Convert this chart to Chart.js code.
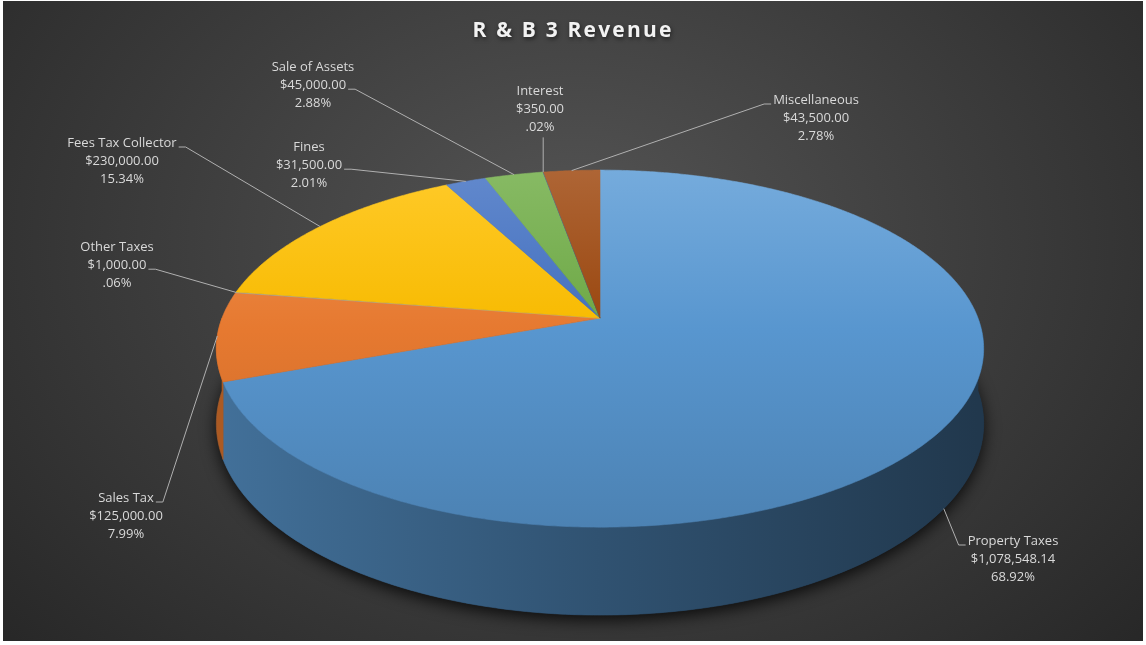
<!DOCTYPE html>
<html>
<head>
<meta charset="utf-8">
<title>R &amp; B 3 Revenue</title>
<script src="https://cdn.jsdelivr.net/npm/chart.js@4.4.0/dist/chart.umd.min.js"></script>
<style>
    html, body { margin: 0; padding: 0; background: #fff; }
    #wrap {
        position: absolute; left: 3px; top: 1px; width: 1140px; height: 640px;
        background: radial-gradient(ellipse 70% 95% at 50% 38%, #555 0%, #3d3d3d 50%, #262626 100%);
    }
</style>
</head>
<body>
<div id="wrap"><canvas id="revChart"></canvas></div>
<script>
var categories = ['Property Taxes', 'Sales Tax', 'Other Taxes', 'Fees Tax Collector', 'Fines', 'Sale of Assets', 'Interest', 'Miscellaneous'];
var amounts = [1078548.14, 125000, 1000, 230000, 31500, 45000, 350, 43500];
var percentText = ['68.92%', '7.99%', '.06%', '15.34%', '2.01%', '2.88%', '.02%', '2.78%'];
var sliceColors = ['#5B9BD5', '#ED7D31', '#A5A5A5', '#FFC000', '#4472C4', '#70AD47', '#255E91', '#9E480E'];

// where each data label sits (centre of first line) and how its leader leaves it
var labelLayout = [
    { x: 1010, y: 540, line: 0, side: 'left',  base: true },
    { x: 123,  y: 497, line: 0, side: 'right' },
    { x: 114,  y: 246, line: 1, side: 'right' },
    { x: 119,  y: 142, line: 0, side: 'right' },
    { x: 306,  y: 146, line: 1, side: 'right' },
    { x: 310,  y: 66,  line: 1, side: 'right' },
    { x: 537,  y: 90,  line: 2, side: 'below' },
    { x: 813,  y: 99,  line: 0, side: 'left' }
];
var lineGap = 18.2;

// tilted disc: sideways shift from the pie centre, radii, perspective, thickness
var view = { shiftX: 27, rx: 378, ry: 173.3, persp: 0.171, depth: 72.9 };

function project(c, a, drop) {
    var s = Math.sin(a), w = 1 - view.persp * s;
    return { x: c.x + view.rx * Math.cos(a) / w, y: c.y + (view.ry * s + (drop || 0)) / w };
}

function rgb(hex) {
    var n = parseInt(hex.slice(1), 16);
    return [(n >> 16) & 255, (n >> 8) & 255, n & 255];
}
function shade(hex, f) {
    var c = rgb(hex);
    return 'rgb(' + c.map(function(v) { return Math.round(v * f); }).join(',') + ')';
}
function tint(hex, f) {
    var c = rgb(hex);
    return 'rgb(' + c.map(function(v) { return Math.round(v + (255 - v) * f); }).join(',') + ')';
}
function money(v) {
    return '$' + v.toLocaleString('en-US', { minimumFractionDigits: 2, maximumFractionDigits: 2 });
}

function centreOf(chart) {
    var arc = chart.getDatasetMeta(0).data[0];
    return { x: arc.x + view.shiftX, y: arc.y };
}

var pie3d = {
    id: 'pie3d',
    beforeDraw: function(chart) {
        // spaced, shadowed title text
        var ctx = chart.ctx;
        ctx.letterSpacing = '2.2px';
        ctx.shadowColor = 'rgba(0,0,0,0.55)';
        ctx.shadowBlur = 4;
        ctx.shadowOffsetX = 1;
        ctx.shadowOffsetY = 2;
    },
    beforeDatasetsDraw: function(chart) {
        var ctx = chart.ctx;
        ctx.letterSpacing = '0px';
        ctx.shadowColor = 'rgba(0,0,0,0)';
        ctx.shadowBlur = 0;
        ctx.shadowOffsetX = 0;
        ctx.shadowOffsetY = 0;

        var arcs = chart.getDatasetMeta(0).data;
        var colors = chart.data.datasets[0].backgroundColor;
        var c = centreOf(chart);
        var deg = Math.PI / 180;

        // soft shadow under the base
        ctx.save();
        ctx.shadowColor = 'rgba(0,0,0,0.8)';
        ctx.shadowBlur = 16;
        ctx.shadowOffsetY = 5;
        ctx.beginPath();
        for (var t = 0; t <= 360; t++) {
            var p = project(c, t * deg, view.depth);
            if (t) ctx.lineTo(p.x, p.y); else ctx.moveTo(p.x, p.y);
        }
        ctx.closePath();
        ctx.fillStyle = '#1d3855';
        ctx.fill();
        ctx.restore();

        // outer wall, only the front half can be seen
        arcs.forEach(function(arc, i) {
            var a0 = Math.max(arc.startAngle, 0), a1 = Math.min(arc.endAngle, Math.PI);
            if (a1 <= a0) return;
            var n = Math.max(2, Math.ceil((a1 - a0) / (deg / 2)));
            ctx.beginPath();
            for (var j = 0; j <= n; j++) {
                var p = project(c, a0 + (a1 - a0) * j / n, 0);
                if (j) ctx.lineTo(p.x, p.y); else ctx.moveTo(p.x, p.y);
            }
            for (j = n; j >= 0; j--) {
                var q = project(c, a0 + (a1 - a0) * j / n, view.depth);
                ctx.lineTo(q.x, q.y);
            }
            ctx.closePath();
            var g = ctx.createLinearGradient(c.x - view.rx, 0, c.x + view.rx, 0);
            g.addColorStop(0, shade(colors[i], 0.72));
            g.addColorStop(0.5, shade(colors[i], 0.53));
            g.addColorStop(1, shade(colors[i], 0.36));
            ctx.fillStyle = g;
            ctx.strokeStyle = g;
            ctx.lineWidth = 0.6;
            ctx.fill();
            ctx.stroke();
        });

        // top face
        var top = c.y - view.ry / (1 + view.persp), bottom = c.y + view.ry / (1 - view.persp);
        arcs.forEach(function(arc, i) {
            var a0 = arc.startAngle, a1 = arc.endAngle;
            var n = Math.max(2, Math.ceil((a1 - a0) / (deg / 2)));
            ctx.beginPath();
            ctx.moveTo(c.x, c.y);
            for (var j = 0; j <= n; j++) {
                var p = project(c, a0 + (a1 - a0) * j / n, 0);
                ctx.lineTo(p.x, p.y);
            }
            ctx.closePath();
            var g = ctx.createLinearGradient(0, top, 0, bottom);
            g.addColorStop(0, tint(colors[i], 0.16));
            g.addColorStop(0.45, shade(colors[i], 0.97));
            g.addColorStop(1, shade(colors[i], 0.84));
            ctx.fillStyle = g;
            ctx.strokeStyle = g;
            ctx.lineWidth = 0.6;
            ctx.fill();
            ctx.stroke();
        });
        return false;
    },
    afterDraw: function(chart) {
        var ctx = chart.ctx;
        var arcs = chart.getDatasetMeta(0).data;
        var c = centreOf(chart);
        ctx.save();
        ctx.font = '13px "Open Sans"';
        ctx.fillStyle = '#d9d9d9';
        ctx.strokeStyle = '#b0b0b0';
        ctx.lineWidth = 1;
        ctx.textAlign = 'center';
        ctx.textBaseline = 'middle';
        arcs.forEach(function(arc, i) {
            var L = labelLayout[i];
            var lines = [categories[i], money(amounts[i]), percentText[i]];
            lines.forEach(function(txt, j) { ctx.fillText(txt, L.x, L.y + j * lineGap); });

            var mid = (arc.startAngle + arc.endAngle) / 2;
            var end = project(c, mid, L.base ? view.depth : 0);
            ctx.beginPath();
            if (L.side === 'below') {
                ctx.moveTo(end.x, L.y + L.line * lineGap + 10);
            } else {
                var dir = L.side === 'right' ? 1 : -1;
                var sx = L.x + dir * (ctx.measureText(lines[L.line]).width / 2 + 2);
                var sy = L.y + L.line * lineGap + 4;
                ctx.moveTo(sx, sy);
                ctx.lineTo(sx + dir * 7, sy);
            }
            ctx.lineTo(end.x, end.y);
            ctx.stroke();
        });
        ctx.restore();
    }
};

new Chart(document.getElementById('revChart'), {
    type: 'pie',
    data: {
        labels: categories,
        datasets: [{
            data: amounts,
            backgroundColor: sliceColors,
            borderWidth: 0
        }]
    },
    options: {
        responsive: true,
        maintainAspectRatio: false,
        animation: false,
        layout: { padding: { left: 33, right: 33, top: 0, bottom: 58 } },
        plugins: {
            legend: { display: false },
            tooltip: { enabled: false },
            title: {
                display: true,
                text: 'R & B 3 Revenue',
                color: '#f2f2f2',
                font: { family: '"Open Sans"', size: 21, weight: 'bold', lineHeight: 1.2 },
                padding: { top: 17, bottom: 10 }
            }
        }
    },
    plugins: [pie3d]
});
</script>
</body>
</html>
